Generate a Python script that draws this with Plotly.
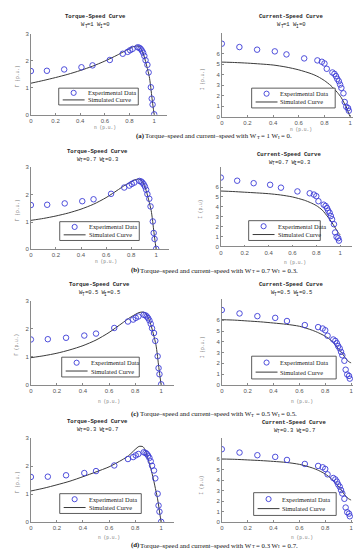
import plotly.graph_objects as go

W, H = 361, 550

# ---------------- data ----------------
torque_exp_speed = [0, 0.13, 0.27, 0.41, 0.50, 0.64, 0.745, 0.785, 0.805, 0.825, 0.866, 0.88,
                    0.89, 0.90, 0.91, 0.92, 0.93, 0.945, 0.955, 0.973, 0.98, 0.987, 1.0]
torque_exp = [1.62, 1.63, 1.68, 1.76, 1.83, 2.03, 2.26, 2.33, 2.39, 2.44, 2.50, 2.48,
              2.44, 2.38, 2.30, 2.18, 2.02, 1.85, 1.57, 1.02, 0.60, 0.38, 0.02]

current_exp_speed = [0, 0.137, 0.275, 0.413, 0.504, 0.642, 0.745, 0.78, 0.80, 0.818, 0.862,
                     0.878, 0.89, 0.90, 0.912, 0.922, 0.932, 0.948, 0.958, 0.97, 0.984, 0.99]
current_exp = [6.96, 6.64, 6.39, 6.23, 5.94, 5.56, 5.37, 5.24, 5.08, 4.57, 4.22,
               4.09, 3.87, 3.61, 3.39, 3.07, 2.75, 2.24, 1.41, 0.96, 0.83, 0.58]

torque_sim_speed = [0, 0.1, 0.2, 0.3, 0.4, 0.5, 0.6, 0.7, 0.75, 0.8, 0.83, 0.86, 0.88,
                    0.9, 0.92, 0.94, 0.96, 0.97, 0.98, 0.99, 1.0]
torque_sim_a = [1.17, 1.27, 1.38, 1.50, 1.64, 1.80, 1.99, 2.21, 2.33, 2.45, 2.52, 2.55, 2.52,
                2.38, 2.14, 1.80, 1.42, 1.10, 0.70, 0.33, 0.0]
torque_sim_b = [1.06, 1.13, 1.22, 1.33, 1.47, 1.65, 1.89, 2.19, 2.34, 2.47, 2.54, 2.57, 2.53,
                2.39, 2.15, 1.81, 1.42, 1.10, 0.70, 0.33, 0.0]
torque_sim_c = [0.97, 1.04, 1.13, 1.25, 1.40, 1.60, 1.87, 2.20, 2.37, 2.51, 2.58, 2.60, 2.56,
                2.41, 2.16, 1.82, 1.43, 1.10, 0.70, 0.33, 0.0]
torque_sim_d = [1.12, 1.22, 1.34, 1.47, 1.63, 1.80, 1.98, 2.23, 2.38, 2.60, 2.71, 2.70, 2.55,
                2.25, 1.93, 1.55, 1.12, 0.90, 0.62, 0.30, 0.0]

current_sim_speed = [0, 0.1, 0.2, 0.3, 0.4, 0.5, 0.6, 0.7, 0.75, 0.8, 0.85, 0.9, 0.93,
                     0.95, 0.97, 0.98, 0.99, 1.0]
current_sim_a = [5.21, 5.17, 5.11, 5.03, 4.93, 4.74, 4.47, 4.09, 3.82, 3.45, 2.97, 2.33, 1.85,
                 1.40, 0.95, 0.62, 0.30, 0.0]
current_sim_b = [5.60, 5.55, 5.48, 5.41, 5.33, 5.20, 5.00, 4.67, 4.43, 4.13, 3.67, 2.93, 2.43,
                 2.05, 1.65, 1.45, 1.30, 1.17]
current_sim_c = [6.06, 6.02, 5.94, 5.86, 5.75, 5.63, 5.45, 5.08, 4.83, 4.52, 4.09, 3.38, 2.95,
                 2.60, 2.30, 2.18, 2.10, 2.05]
current_sim_d = [6.03, 6.00, 5.94, 5.88, 5.80, 5.70, 5.52, 5.18, 4.93, 4.60, 4.12, 3.45, 2.98,
                 2.62, 2.35, 2.25, 2.18, 2.12]

panel_letters = ["a", "b", "c", "d"]
weight_T = ["1", "0.7", "0.5", "0.3"]
weight_I = ["0", "0.3", "0.5", "0.7"]
torque_sims = [torque_sim_a, torque_sim_b, torque_sim_c, torque_sim_d]
current_sims = [current_sim_a, current_sim_b, current_sim_c, current_sim_d]
current_ylabels = ["I (p.u.)", "I (p.u)", "I (p.u.)", "I (p.u)"]
speed_ticks = [0, 0.2, 0.4, 0.6, 0.8, 1]
torque_ticks = [0, 1, 2, 3]
current_ticks = [0, 1, 2, 3, 4, 5, 6]

# ---------------- layout geometry (pixels) ----------------
left_geo = [(21, 124, 23, 105), (21, 126, 158, 241), (21, 131, 293, 378), (21, 131, 432, 517)]
right_geo = [(213, 129, 22, 107), (212, 120, 158, 238), (213, 130, 291, 378), (213, 130, 432, 517)]
title_pos = [((86, 6), (283, 6)), ((88, 142), (281, 145)), ((90, 277), (283, 277)), ((88, 415), (286, 416))]
xlabel_y = [(118, 120), (253, 254), (395, 395), (532, 532)]
caption_y = [126, 262, 407, 540]
legend_boxes = [((49, 78, 129, 95), (243, 78, 327, 98)),
                ((50, 213, 130, 232), (240, 212, 312, 232)),
                ((52, 350, 130, 370), (243, 349, 328, 372)),
                ((50, 488, 132, 508), (245, 487, 328, 510))]

def px(x):
    return x / W

def py(y):
    return 1 - y / H

MARK = "rgb(60,60,215)"
LINEC = "#3a3a3a"
AXC = "#8a8a8a"
TICKF = dict(size=6, color="#555555", family="Liberation Sans")
MONO = "Liberation Mono"
SERIF = "Liberation Serif"

# Times-compatible advance widths (per 1000 em) for Liberation Serif
SERIF_W = {" ": 250, "(": 333, ")": 333, ".": 250, "=": 564, "T": 611, "W": 944, "I": 333,
           "a": 444, "b": 500, "c": 444, "d": 500, "e": 444, "h": 500, "i": 278, "n": 500,
           "o": 500, "p": 500, "q": 500, "r": 333, "s": 389, "t": 278, "u": 500, "w": 722,
           "–": 500}
SERIF_BW = {"(": 333, ")": 333, "a": 500, "b": 556, "c": 444, "d": 556}

def text_width(s, size, family, bold=False):
    if family == MONO:
        return 0.6 * size * len(s)
    tbl = SERIF_BW if bold else SERIF_W
    return sum(tbl.get(ch, SERIF_W.get(ch, 500)) for ch in s) / 1000 * size

fig = go.Figure()
layout = dict(width=W, height=H, margin=dict(l=0, r=0, t=0, b=0),
              paper_bgcolor="white", plot_bgcolor="white", showlegend=False)
annotations = []
shapes = []

def rich_line(pieces, cx, cy, family, color):
    """pieces: (text, size, dy, bold) laid out left to right, centered at cx."""
    widths = [text_width(t, s, family, b) for t, s, dy, b in pieces]
    x = cx - sum(widths) / 2
    for (t, s, dy, b), w in zip(pieces, widths):
        lead = len(t) - len(t.lstrip(" "))
        core = t.strip(" ")
        if core:
            x0 = x + text_width(" " * lead, s, family)
            annotations.append(dict(text=f"<b>{core}</b>" if b else core, xref="paper", yref="paper",
                                    x=px(x0), y=py(cy + dy), xanchor="left", yanchor="middle",
                                    showarrow=False, borderpad=0, borderwidth=0,
                                    font=dict(size=s, family=family, color=color)))
        x += w

def axis_common():
    return dict(showline=True, linecolor=AXC, linewidth=0.8, ticks="inside", ticklen=2,
                tickcolor=AXC, tickwidth=0.8, showgrid=False, zeroline=False, tickfont=TICKF)

def add_legend(box):
    x0, y0, x1, y1 = box
    h = y1 - y0
    shapes.append(dict(type="rect", xref="paper", yref="paper", x0=px(x0), x1=px(x1),
                       y0=py(y1), y1=py(y0), line=dict(color="#333333", width=0.8),
                       fillcolor="white", layer="above"))
    cy1 = y0 + h * 0.28
    cy2 = y0 + h * 0.70
    cx = x0 + 15
    shapes.append(dict(type="circle", xref="paper", yref="paper", x0=px(cx - 2.6), x1=px(cx + 2.6),
                       y0=py(cy1 + 2.6), y1=py(cy1 - 2.6), line=dict(color=MARK, width=0.9),
                       layer="above"))
    shapes.append(dict(type="line", xref="paper", yref="paper", x0=px(x0 + 4), x1=px(x0 + 26),
                       y0=py(cy2), y1=py(cy2), line=dict(color=LINEC, width=1), layer="above"))
    for txt, cy in (("Experimental Data", cy1), ("Simulated Curve", cy2)):
        annotations.append(dict(text=txt, xref="paper", yref="paper", x=px(x0 + 29), y=py(cy),
                                xanchor="left", yanchor="middle", showarrow=False,
                                borderpad=0, borderwidth=0,
                                font=dict(size=6.4, family=SERIF, color="#222222")))

for i in range(4):
    ax = 2 * i + 1
    x0p, sx, yt, yb = left_geo[i]
    xa = axis_common()
    xa.update(domain=[px(x0p), px(x0p + 1.1 * sx)], range=[0, 1.1], tickvals=speed_ticks,
              anchor=f"y{ax}")
    ya = axis_common()
    ya.update(domain=[py(yb), py(yt)], range=[0, 3], tickvals=torque_ticks, anchor=f"x{ax}")
    layout[f"xaxis{ax}"] = xa
    layout[f"yaxis{ax}"] = ya
    fig.add_trace(go.Scatter(x=torque_sim_speed, y=torque_sims[i], mode="lines",
                             line=dict(color=LINEC, width=1, shape="spline", smoothing=0.7),
                             xaxis=f"x{ax}", yaxis=f"y{ax}", name="Simulated Curve"))
    fig.add_trace(go.Scatter(x=torque_exp_speed, y=torque_exp, mode="markers",
                             marker=dict(symbol="circle-open", size=5.5, color=MARK,
                                         line=dict(width=0.9)),
                             xaxis=f"x{ax}", yaxis=f"y{ax}", name="Experimental Data"))
    ax2 = 2 * i + 2
    x0p2, sx2, yt2, yb2 = right_geo[i]
    xa2 = axis_common()
    xa2.update(domain=[px(x0p2), px(x0p2 + 1.1 * sx2)], range=[0, 1.1], tickvals=speed_ticks,
               anchor=f"y{ax2}")
    ya2 = axis_common()
    ya2.update(domain=[py(yb2), py(yt2)], range=[0, 8], tickvals=current_ticks, anchor=f"x{ax2}")
    layout[f"xaxis{ax2}"] = xa2
    layout[f"yaxis{ax2}"] = ya2
    fig.add_trace(go.Scatter(x=current_sim_speed, y=current_sims[i], mode="lines",
                             line=dict(color=LINEC, width=1, shape="spline", smoothing=0.7),
                             xaxis=f"x{ax2}", yaxis=f"y{ax2}", name="Simulated Curve"))
    fig.add_trace(go.Scatter(x=current_exp_speed, y=current_exp, mode="markers",
                             marker=dict(symbol="circle-open", size=5.5, color=MARK,
                                         line=dict(width=0.9)),
                             xaxis=f"x{ax2}", yaxis=f"y{ax2}", name="Experimental Data"))

    # titles
    (ltx, lty), (rtx, rty) = title_pos[i]
    for tx, ty, main in ((ltx, lty, "Torque-Speed Curve"), (rtx, rty, "Current-Speed Curve")):
        annotations.append(dict(text=f"<b>{main}</b>", xref="paper", yref="paper", x=px(tx), y=py(ty),
                                xanchor="center", yanchor="middle", showarrow=False,
                                font=dict(size=5.6, family=MONO, color="#222222")))
        rich_line([("W", 5.5, 0, False), ("T", 4.5, 1.6, False),
                   (f"={weight_T[i]} W", 5.5, 0, False), ("I", 4.5, 1.6, False),
                   (f"={weight_I[i]}", 5.5, 0, False)], tx, ty + 8, MONO, "#222222")
    # x labels
    lxy, rxy = xlabel_y[i]
    annotations.append(dict(text="n (p.u.)", xref="paper", yref="paper", x=px(x0p + 0.6 * sx),
                            y=py(lxy), xanchor="center", yanchor="middle", showarrow=False,
                            font=dict(size=4.6, family=MONO, color="#777777")))
    annotations.append(dict(text="n (p.u.)", xref="paper", yref="paper", x=px(x0p2 + 0.62 * sx2),
                            y=py(rxy), xanchor="center", yanchor="middle", showarrow=False,
                            font=dict(size=4.6, family=MONO, color="#777777")))
    # y labels
    annotations.append(dict(text="Γ (p.u.)", xref="paper", yref="paper", x=px(7),
                            y=py((yt + yb) / 2 + 2), xanchor="center", yanchor="middle",
                            showarrow=False, textangle=-90,
                            font=dict(size=4.6, family=MONO, color="#777777")))
    annotations.append(dict(text=current_ylabels[i], xref="paper", yref="paper", x=px(x0p2 - 20),
                            y=py(yb2 - 38), xanchor="center", yanchor="middle",
                            showarrow=False, textangle=-90,
                            font=dict(size=4.6, family=MONO, color="#777777")))
    # caption
    rich_line([(f"({panel_letters[i]})", 6.8, 0, True),
               (" Torque–speed and current–speed with W", 6.8, 0, False),
               ("T", 4.8, 1.6, False),
               (f" = {weight_T[i]} W", 6.8, 0, False),
               ("I", 4.8, 1.6, False),
               (f" = {weight_I[i]}.", 6.8, 0, False)], 205, caption_y[i], SERIF, "#111111")
    add_legend(legend_boxes[i][0])
    add_legend(legend_boxes[i][1])

layout["annotations"] = annotations
layout["shapes"] = shapes
fig.update_layout(**layout)
fig.write_html("out.html")
